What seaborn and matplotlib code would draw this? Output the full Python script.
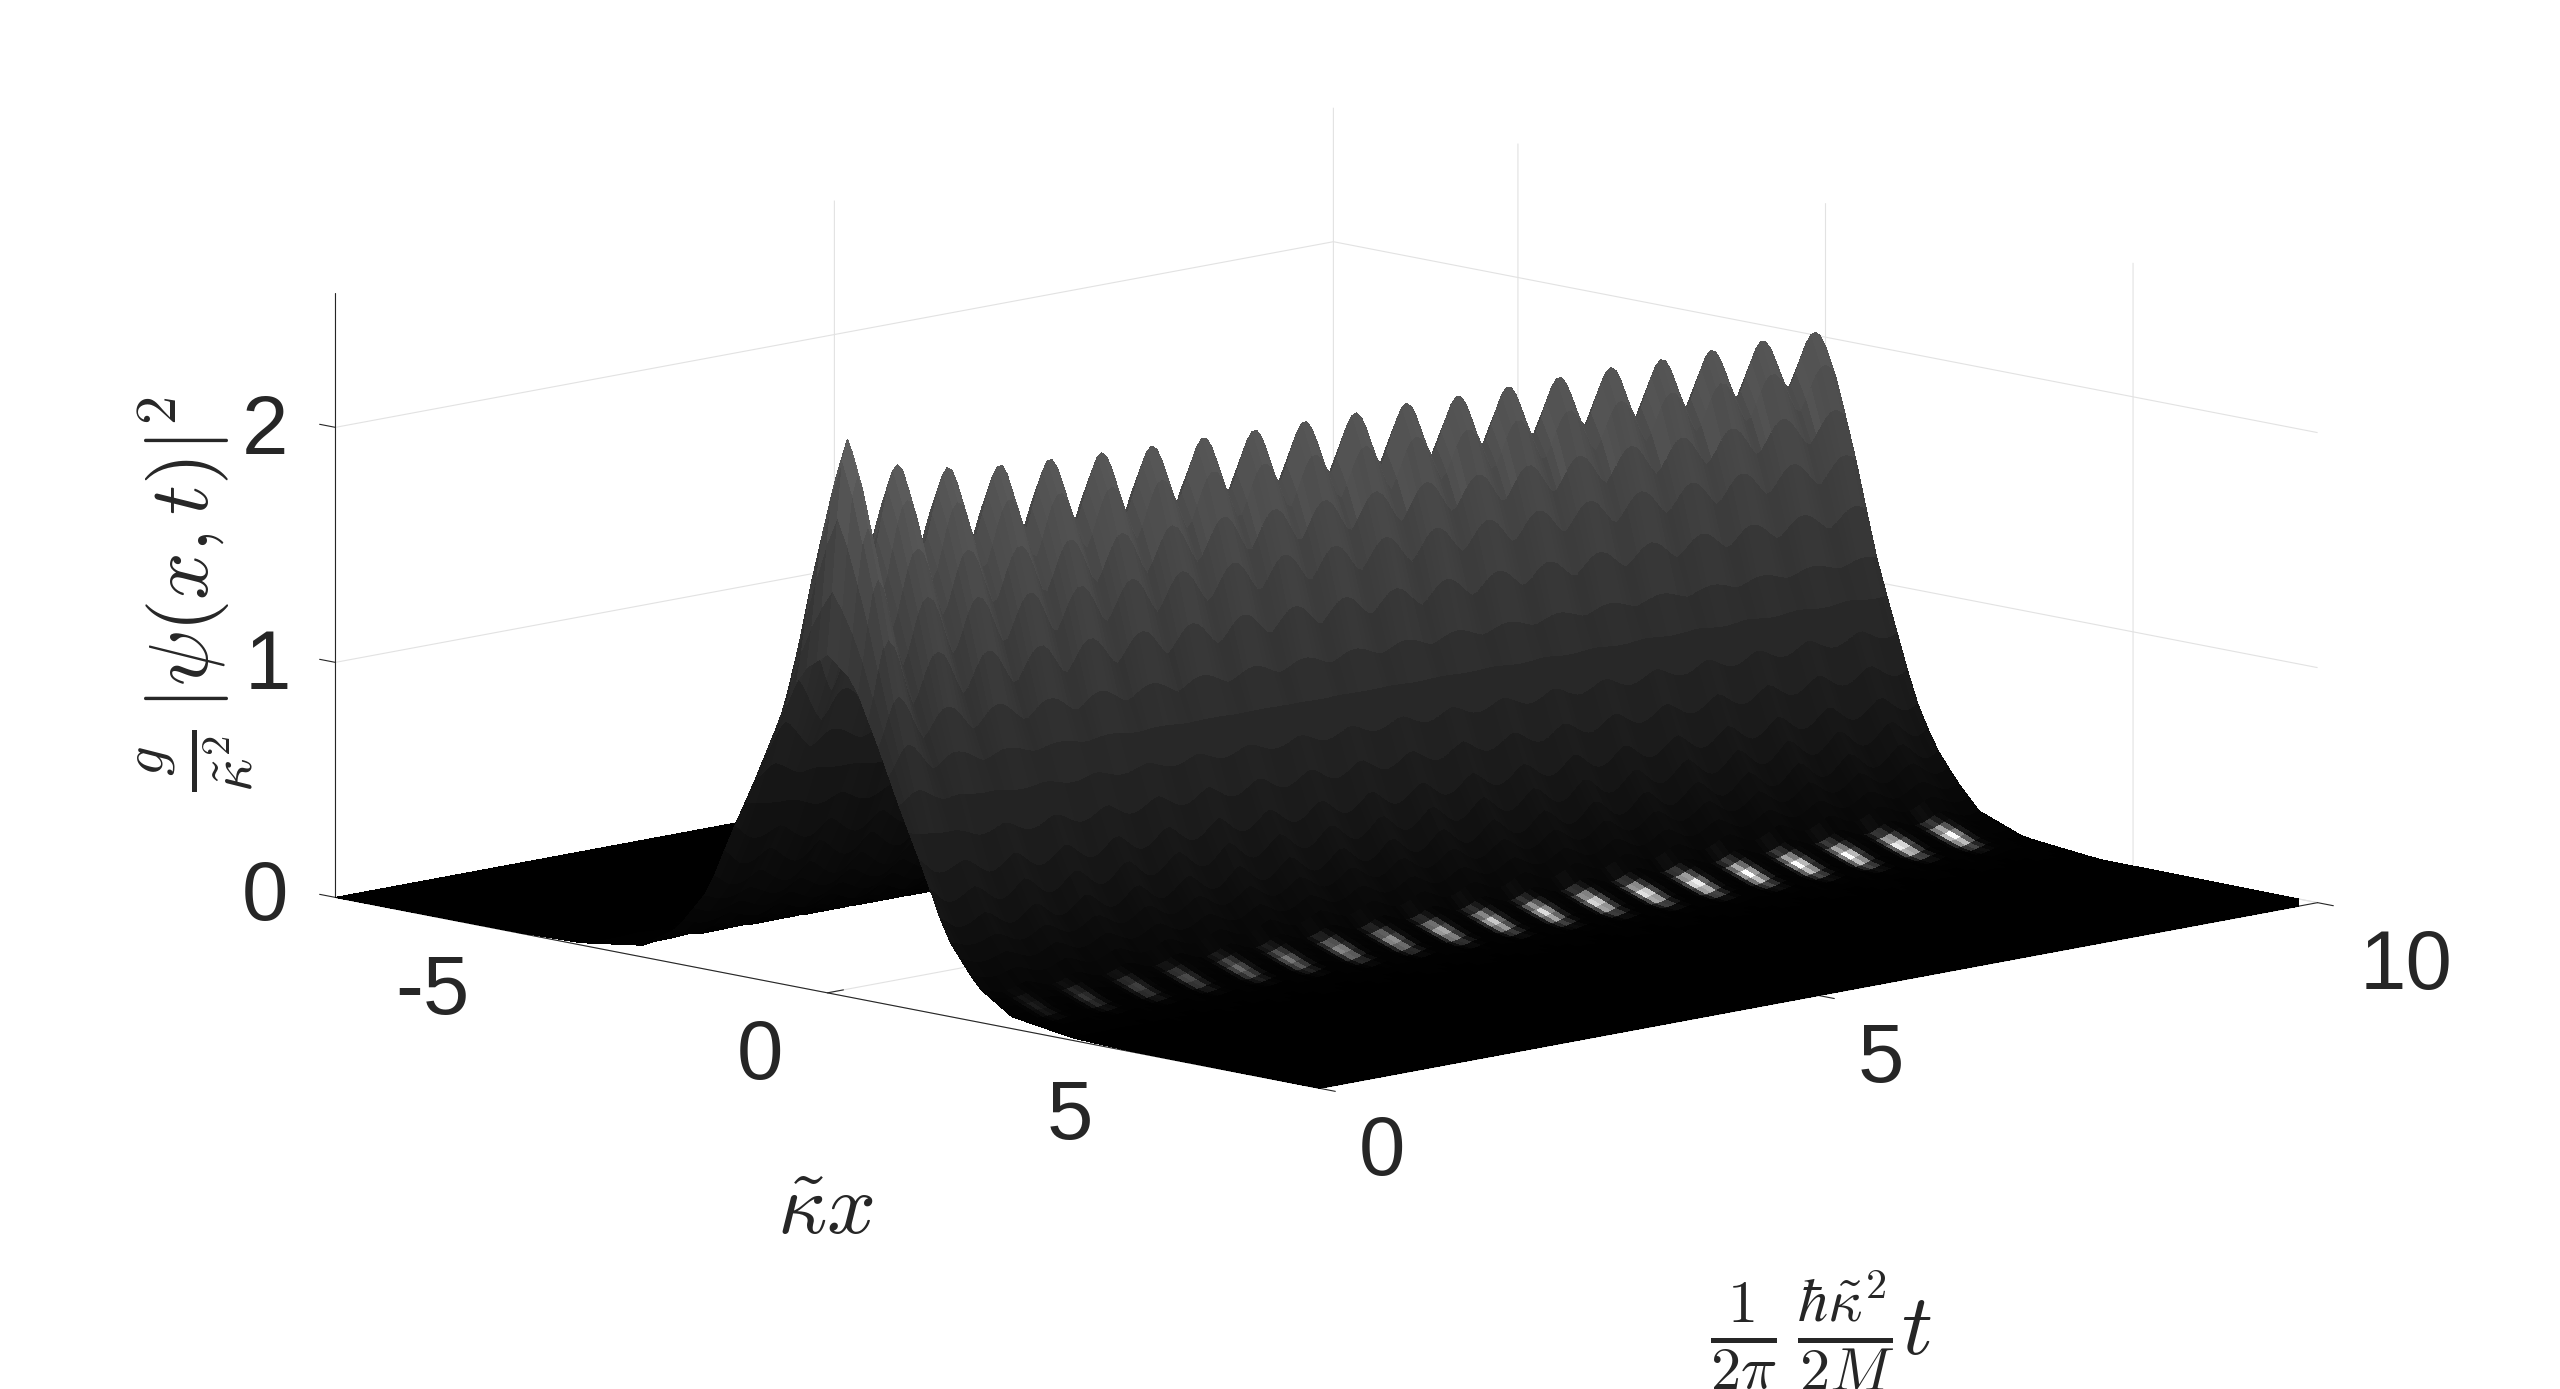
import numpy as np
import matplotlib
matplotlib.use("Agg")
import matplotlib.pyplot as plt
import seaborn as sns

# ---- values ----
peak_t = [0.20, 0.71, 1.21, 1.73, 2.23, 2.75, 3.25, 3.77, 4.28, 4.78,
          5.29, 5.80, 6.32, 6.82, 7.33, 7.85, 8.36, 8.86, 9.37, 9.89]
peak_h = [2.34, 2.19, 2.14, 2.11, 2.095, 2.08, 2.07, 2.065, 2.057, 2.055,
          2.05, 2.05, 2.04, 2.04, 2.04, 2.04, 2.035, 2.035, 2.034, 2.03]
# share of the t=0 profile in each minimum between two maxima (first = t=0)
centre_share = [1.0, 0, 0, 0, 0, 0, 0, 0, 0, 0, 0, 0, 0, 0, 0, 0, 0, 0, 0, 0, 0]
flank_share = [1.0, 0.5, 0.4, 0.3, 0.25, 0.2, 0.15, 0.12, 0.08, 0.05,
               0.03, 0.02, 0.0, 0.0, 0.0, 0.0, 0.0, 0.0, 0.0, 0.0, 0.0]
stripe_level = [0.02, 0.1, 0.2, 0.25, 0.3, 0.4, 0.45, 0.55, 0.6, 0.7,
                0.8, 0.85, 0.9, 0.95, 1.0, 1.0, 1.0, 1.0, 1.0, 1.0]

prof_x_peak = [0, 0.1, 0.5, 0.86, 1.15, 1.45, 1.77, 2.13, 2.49, 3.22, 4.44, 8]
prof_z_peak = [2.03, 1.97, 1.53, 1.08, 0.80, 0.525, 0.33, 0.205, 0.10, 0.03, 0.003, 0]
prof_x_t0 = [0, 0.42, 0.84, 1.2, 1.56, 1.93, 2.44, 3, 4, 5, 8]
prof_z_t0 = [1.44, 1.35, 1.08, 0.83, 0.60, 0.34, 0.15, 0.05, 0.01, 0.002, 0]
prof_x_min = [0, 0.25, 0.5, 0.67, 0.86, 1.15, 1.45, 1.77, 2.13, 2.49, 3.22, 4.44, 8]
prof_z_min = [1.80, 1.66, 1.42, 1.24, 1.06, 0.85, 0.60, 0.42, 0.26, 0.14, 0.055, 0.008, 0]

x_ticks = [-5, 0, 5]
t_ticks = [0, 5, 10]
z_ticks = [0, 1, 2]
x_lim = (-8, 8)
t_lim = (0, 10)
z_lim = (0, 2.57)

sns.set_theme(style="white")
plt.rcParams["font.family"] = ["Liberation Sans", "DejaVu Sans"]
plt.rcParams["mathtext.fontset"] = "cm"
plt.rcParams["axes.unicode_minus"] = False
INK = "#262626"

# ---- surface built from the tables, on a coarse x mesh as in the original ----
x = np.linspace(x_lim[0], x_lim[1], 97)
t = np.linspace(t_lim[0], t_lim[1], 201)


def profile(px, pz):
    return np.interp(np.abs(x), px, pz)


P = profile(prof_x_peak, prof_z_peak)
T0 = profile(prof_x_t0, prof_z_t0)
T1 = profile(prof_x_min, prof_z_min)
w = np.clip(np.abs(x) / 0.6, 0, 1)

tr_t = [0.0] + [(a + b) / 2 for a, b in zip(peak_t[:-1], peak_t[1:])] + [10.15]
knots = np.ravel(np.column_stack([tr_t[:-1], peak_t]))
knots = np.append(knots, tr_t[-1])
u = np.interp(t, knots, np.arange(len(knots)))
wave = np.abs(np.sin(np.pi * u / 2))
s = 0.5 * wave + 0.5 * wave ** 2
hp = np.interp(t, peak_t, peak_h)
fl = np.interp(t, tr_t, flank_share)
ce = np.interp(t, tr_t, centre_share)

Z = np.empty((t.size, x.size))
for i in range(t.size):
    top = P * hp[i] / prof_z_peak[0]
    low = T1 + (fl[i] * w + ce[i] * (1 - w)) * (T0 - T1)
    Z[i] = s[i] * top + (1 - s[i]) * low
X, Y = np.meshgrid(x, t)

# ---- grey shading with the highlights ----
ramp = sns.blend_palette(["#000000", "#626262"], n_colors=256, as_cmap=True)
grey = ramp(np.clip(Z / 2.35, 0, 1))[..., 0]
side = 0.7 + 0.3 * np.clip((X + 1.5) / 1.5, 0, 1)
grey = grey * side
for tp, lv in zip(peak_t, stripe_level):
    grey += lv * np.exp(-((X - 2.85) / 0.28) ** 2) * np.exp(-((Y - tp + 0.45) / 0.07) ** 2)
    grey += 0.05 * lv * np.exp(-((X - 0.1) / 0.12) ** 2) * np.exp(-((Y - tp + 0.19) / 0.05) ** 2)
grey = np.clip(grey, 0, 1)
colors = np.dstack([grey, grey, grey, np.ones_like(grey)])

# ---- figure ----
fig = plt.figure(figsize=(25.6, 13.89), dpi=100, facecolor="white")
side_px = 2000
cx, cy = 0.5076, 0.550
ax = fig.add_axes([cx - side_px / 2560 / 2, cy - side_px / 1389 / 2,
                   side_px / 2560, side_px / 1389], projection="3d")
ax.patch.set_alpha(0)
ax.set_proj_type("ortho")
ax.view_init(elev=10.95, azim=-44.4)
ax.plot_surface(X, Y, Z, facecolors=colors, rstride=1, cstride=1,
                linewidth=0, antialiased=False, shade=False)
ax.set_xlim(*x_lim, view_margin=0)
ax.set_ylim(*t_lim, view_margin=0)
ax.set_zlim(*z_lim, view_margin=0)
ax.set_box_aspect((862, 856, 377), zoom=1.55 * 1300 / side_px)
ax.set_xticks(x_ticks)
ax.set_yticks(t_ticks)
ax.set_zticks(z_ticks)
ax.zaxis.set_ticks_position("lower")
ax.zaxis._get_tickdir = lambda position: 0
for a in (ax.xaxis, ax.yaxis, ax.zaxis):
    a.set_pane_color((1, 1, 1, 0))
    a.pane.set_edgecolor((1, 1, 1, 0))
    a._axinfo["grid"].update(color="#e2e2e2", linewidth=0.8)
    a._axinfo["tick"].update(inward_factor=0.0, outward_factor=0.2, linewidth={True: 0.8, False: 0.8}, color=INK)
    a.line.set_color(INK)
    a.line.set_linewidth(0.8)
ax.yaxis._axinfo["tick"].update(inward_factor=0.2, outward_factor=0.0)
ax.tick_params(axis="x", labelsize=60, labelcolor=INK, pad=16)
ax.tick_params(axis="y", labelsize=60, labelcolor=INK, pad=16)
ax.tick_params(axis="z", labelsize=60, labelcolor=INK, pad=8)


# small nudges of the tick labels, in pixels of the output image
def nudge(label, dx, dy):
    place = label.set_position

    def moved(xy):
        p = ax.transData.transform(xy) + np.array([dx, dy])
        place(ax.transData.inverted().transform(p))

    label.set_position = moved


nudges = {ax.xaxis: [(-56, 5), (-36, 0), (-33, 0)],
          ax.yaxis: [(31, 0), (31, 0), (57, 0)],
          ax.zaxis: [(-28, 38), (-25, 34), (-28, 34)]}
for a, shifts in nudges.items():
    for tick, (dx, dy) in zip(a.get_major_ticks(), shifts):
        nudge(tick.label1, dx, dy)

fig.text(196 / 2560, 1 - 594 / 1389, r"$\frac{g}{\tilde{\kappa}^2}\,|\psi(x,t)|^2$",
         rotation=90, ha="center", va="center", fontsize=60, color=INK)
fig.text(825 / 2560, 1 - 1212 / 1389, r"$\tilde{\kappa}x$", ha="center", va="center", fontsize=62, color=INK)
fig.text(1821 / 2560, 1 - 1331 / 1389, r"$\frac{1}{2\pi}\,\frac{\hbar\tilde{\kappa}^2}{2M}t$",
         ha="center", va="center", fontsize=62, color=INK)

fig.savefig("out.png", dpi=100, facecolor="white")
